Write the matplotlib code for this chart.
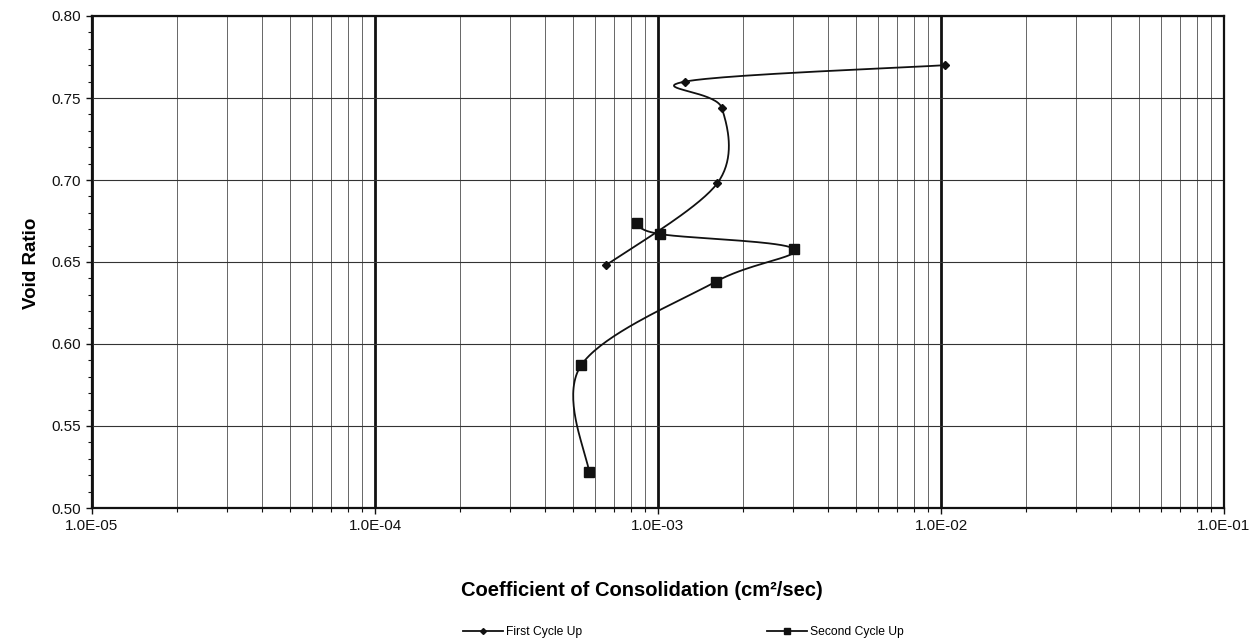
import numpy as np
import matplotlib
matplotlib.use('Agg')
import matplotlib.pyplot as plt
from matplotlib.ticker import FixedLocator, LogLocator, MultipleLocator, FuncFormatter
from matplotlib.lines import Line2D

plt.rcParams['font.family'] = ['Liberation Sans', 'DejaVu Sans']

# first cycle (loading up)
cv_first = [1.03e-2, 1.245e-3, 1.68e-3, 1.62e-3, 6.55e-4]
e_first = [0.770, 0.760, 0.744, 0.698, 0.648]

# second cycle
cv_second = [8.43e-4, 1.02e-3, 3.02e-3, 1.60e-3, 5.35e-4, 5.70e-4]
e_second = [0.674, 0.667, 0.658, 0.638, 0.587, 0.522]

xlim = (1e-5, 1e-1)
ylim = (0.50, 0.80)


def smooth(xs, ys, n=40):
    # spreadsheet-style smoothed line: bezier through the points, in plot space
    u = (np.log10(xs) - np.log10(xlim[0])) / (np.log10(xlim[1]) - np.log10(xlim[0])) * 1132
    v = (np.asarray(ys) - ylim[0]) / (ylim[1] - ylim[0]) * 492
    p = np.column_stack([u, v])
    p = np.vstack([p[0], p, p[-1]])
    out = []
    for i in range(1, len(p) - 2):
        p0, p1, p2, p3 = p[i - 1], p[i], p[i + 1], p[i + 2]
        c1 = p1 + (p2 - p0) / 6
        c2 = p2 - (p3 - p1) / 6
        t = np.linspace(0, 1, n)[:, None]
        seg = ((1 - t) ** 3) * p1 + 3 * ((1 - t) ** 2) * t * c1 + 3 * (1 - t) * t ** 2 * c2 + t ** 3 * p2
        out.append(seg)
    out = np.vstack(out)
    lx = out[:, 0] / 1132 * (np.log10(xlim[1]) - np.log10(xlim[0])) + np.log10(xlim[0])
    ly = out[:, 1] / 492 * (ylim[1] - ylim[0]) + ylim[0]
    return 10 ** lx, ly


fig = plt.figure(figsize=(12.51, 6.41), dpi=100)
ax = fig.add_axes([92 / 1251, 1 - 508 / 641, (1224 - 92) / 1251, (508 - 16) / 641])

ax.set_xscale('log')
ax.set_xlim(*xlim)
ax.set_ylim(*ylim)

# grid: light minor decades, heavy decade lines
ax.xaxis.set_major_locator(FixedLocator([1e-5, 1e-4, 1e-3, 1e-2, 1e-1]))
ax.xaxis.set_minor_locator(LogLocator(base=10, subs=np.arange(2, 10)))
ax.xaxis.set_major_formatter(FuncFormatter(lambda v, p: '%.1E' % v))
ax.xaxis.set_minor_formatter(FuncFormatter(lambda v, p: ''))
ax.yaxis.set_major_locator(MultipleLocator(0.05))
ax.yaxis.set_minor_locator(MultipleLocator(0.01))
ax.yaxis.set_major_formatter(FuncFormatter(lambda v, p: '%.2f' % v))

ax.grid(True, which='minor', axis='x', color='#666666', lw=0.7)
ax.grid(True, which='major', axis='x', color='#111111', lw=2.0)
ax.grid(True, which='major', axis='y', color='#333333', lw=0.8)
ax.set_axisbelow(True)

for s in ax.spines.values():
    s.set_linewidth(1.6)
    s.set_color('#111111')

ax.tick_params(axis='both', which='major', direction='out', length=4, width=1.0,
               labelsize=11, colors='#111111', pad=4)
ax.tick_params(axis='both', which='minor', direction='out', length=3, width=0.8, colors='#111111')

sx, sy = smooth(cv_first, e_first)
ax.plot(sx, sy, color='#111111', lw=1.3)
ax.plot(cv_first, e_first, ls='none', marker='D', ms=4, color='#111111')

sx, sy = smooth(cv_second, e_second)
ax.plot(sx, sy, color='#111111', lw=1.3)
ax.plot(cv_second, e_second, ls='none', marker='s', ms=6.5, color='#111111')

fig.text(31 / 1251, 1 - 263 / 641, 'Void Ratio', rotation=90,
         ha='center', va='center', fontsize=13.5, fontweight='bold')
fig.text(642 / 1251, 1 - 591 / 641, 'Coefficient of Consolidation (cm²/sec)',
         ha='center', va='center', fontsize=14.5, fontweight='bold')

legend_items = [
    ('First Cycle Up', 'D', 3, 463),
    ('Second Cycle Up', 's', 5, 767),
]
for label, mk, size, left in legend_items:
    h = Line2D([], [], color='#111111', lw=1.3, marker=mk, ms=size)
    fig.legend([h], [label], loc='center left', bbox_to_anchor=(left / 1251, 1 - 632 / 641),
               frameon=False, fontsize=8.7, borderpad=0, borderaxespad=0,
               handlelength=3.3, handletextpad=0.3)

fig.savefig('out.png', dpi=100)
